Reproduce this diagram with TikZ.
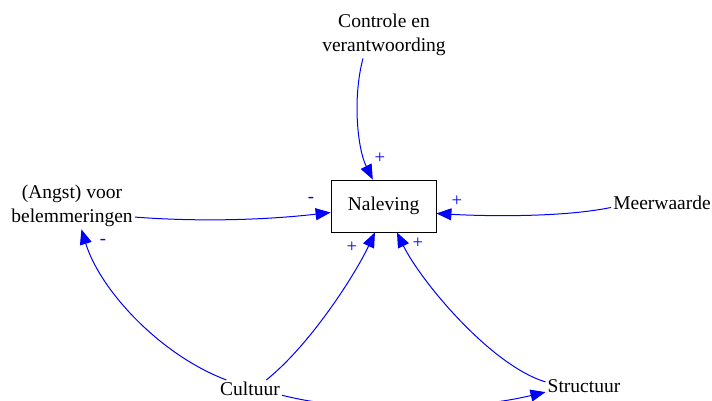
\documentclass[tikz,border=0pt]{standalone}
\usepackage{fontspec}
\newfontfamily\timesfont{Liberation Serif}
\usetikzlibrary{arrows.meta}
\definecolor{linkblue}{RGB}{0,0,255}
\tikzset{
  var/.style={align=center, inner sep=2pt, font=\timesfont\fontsize{19.5}{24.5}\selectfont},
  stock/.style={draw, thick, minimum width=105pt, minimum height=52pt, font=\timesfont\fontsize{19.5}{24}\selectfont},
  link/.style={draw=linkblue, line width=1pt, -{Triangle[length=15pt,width=12pt,fill=linkblue]}},
  sign/.style={text=linkblue, inner sep=0pt, font=\timesfont\fontsize{18.7}{22}\selectfont}
}
\begin{document}
\begin{tikzpicture}[x=1pt,y=-1pt]
\useasboundingbox (0,0) rectangle (712,401);
% variables
\node[stock] (nal) at (383.5,206) {Naleving};
\node[var] (ctrl) at (384,35) {Controle en\\verantwoording};
\node[var] (angst) at (72,206) {(Angst) voor\\belemmeringen};
\node[var] (meer) at (662,203) {Meerwaarde};
\node[var] (cult) at (250,389) {Cultuur};
\node[var] (struc) at (584,386) {Structuur};
% causal links
\draw[link] ([xshift=-21pt]ctrl.south) .. controls (352,100) and (358,150) .. (nal.112);
\draw[link] (angst.350) .. controls (200,222) and (265,220) .. (nal.187);
\draw[link] (meer.185) .. controls (560,218) and (480,216) .. (nal.352);
\draw[link] (cult.159) .. controls (160,355) and (100,290) .. (angst.292);
\draw[link] (cult.29) .. controls (310,345) and (355,275) .. (nal.252);
\draw[link] (struc.174) .. controls (490,365) and (420,280) .. (nal.297);
\draw[link] (cult.349) .. controls (360,415) and (470,410) .. (struc.189);
% polarities
\node[sign] (s1) at (380,158) {+};
\node[sign] (s2) at (311,200) {-};
\node[sign] (s3) at (457,201) {+};
\node[sign] (s4) at (103,242) {-};
\node[sign] (s5) at (352,247) {+};
\node[sign] (s6) at (418,243) {+};
\end{tikzpicture}
\end{document}
